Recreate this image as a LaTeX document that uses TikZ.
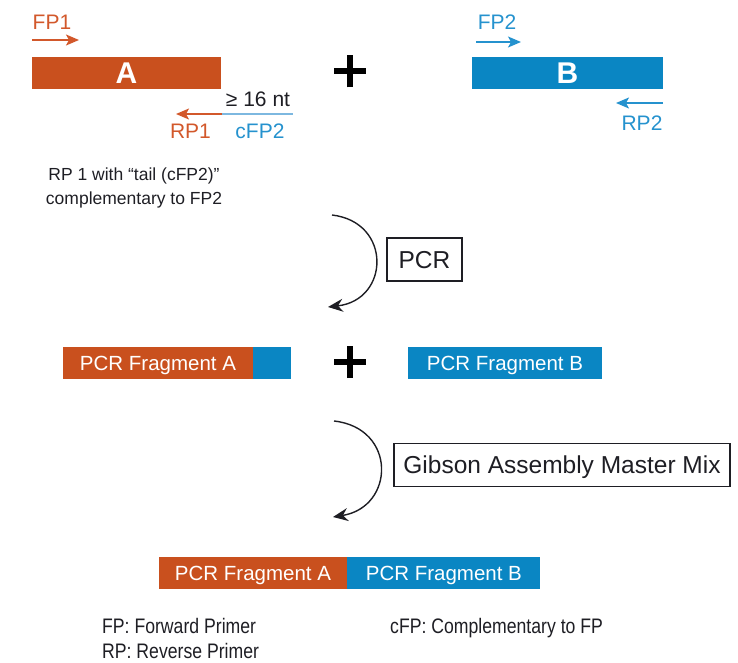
\documentclass[tikz,border=0pt]{standalone}
\usepackage{fontspec}
\setmainfont{Liberation Sans}
\newfontfamily\condfont{Liberation Sans}[FakeStretch=0.84]
\usetikzlibrary{arrows.meta}
\definecolor{orA}{HTML}{C9501E}
\definecolor{blB}{HTML}{0A86C3}
\definecolor{orT}{HTML}{D2582B}
\definecolor{blT}{HTML}{2592CE}
\definecolor{blL}{HTML}{7DB8E0}
\definecolor{txt}{HTML}{1E1E24}
\newcommand\tsz[1]{\fontsize{#1}{#1}\selectfont}
\begin{document}
\begin{tikzpicture}[x=1pt,y=1pt,
  bar/.style={rectangle, inner sep=0pt, minimum height=32pt, text=white, text depth=0pt, font=\tsz{20.5}},
  bigletter/.style={font=\bfseries\tsz{30}},
  lbl/.style={inner sep=0pt, text depth=0pt, font=\tsz{21}},
  primer/.style={line width=1.4pt, -{Stealth[length=13pt,width=11pt,inset=3pt]}},
  curvearrow/.style={line width=1.4pt, draw=txt, -{Stealth[length=15pt,width=13pt,inset=5pt]}},
  stepbox/.style={draw=txt, line width=1.2pt, inner sep=0pt, text depth=0pt, text=txt, font=\tsz{24.5}},
  plusbar/.style={line width=6pt, draw=black},
  legend/.style={anchor=base west, inner sep=0pt, text=txt, font=\condfont\tsz{21}}]
\useasboundingbox (0,0) rectangle (738,662);

% --- top row: fragment A
\node[bar, fill=orA, minimum width=189pt, bigletter] (barA) at (126.5,589) {A};
\node[lbl, text=orT] (fp1) at (52,639.5) {FP1};
\coordinate (fp1s) at (32,622);
\coordinate (fp1e) at (79,622);
\draw[primer, draw=orT] (fp1s) -- (fp1e);

\node[lbl, text=txt] (nt) at (258,563) {≥ 16 nt};
\coordinate (rp1s) at (222,548);
\coordinate (rp1e) at (176,548);
\coordinate (tail) at (293,548);
\draw[line width=1.1pt, draw=blL] (rp1s) -- (tail);
\draw[primer, draw=orT] (rp1s) -- (rp1e);
\node[lbl, text=orT] (rp1) at (190.5,531) {RP1};
\node[lbl, text=blT] (cfp2) at (260,531) {cFP2};

\node[inner sep=0pt, align=center, text=txt, text depth=0pt, font=\fontsize{17.5}{24}\selectfont] (note) at (134,476)
  {RP 1 with “tail (cFP2)”\\complementary to FP2};

% plus 1
\coordinate (p1) at (350,590.5);
\draw[plusbar] ([xshift=-16pt]p1) -- ([xshift=16pt]p1);
\draw[plusbar] ([yshift=-16pt]p1) -- ([yshift=16pt]p1);

% --- top row: fragment B
\node[bar, fill=blB, minimum width=191pt, bigletter] (barB) at (567.5,589) {B};
\node[lbl, text=blT] (fp2) at (497,639.5) {FP2};
\coordinate (fp2s) at (476,620);
\coordinate (fp2e) at (521,620);
\draw[primer, draw=blT] (fp2s) -- (fp2e);
\coordinate (rp2s) at (663,559);
\coordinate (rp2e) at (616,559);
\draw[primer, draw=blT] (rp2s) -- (rp2e);
\node[lbl, text=blT] (rp2) at (642,539) {RP2};

% --- PCR step
\node[stepbox, minimum width=75pt, minimum height=43pt] (pcr) at (424.5,402.5) {PCR};
\coordinate (c1s) at (332,447);
\coordinate (c1e) at (328,355);
\draw[curvearrow] (c1s) .. controls (392,440) and (390,362) .. (c1e);

% --- middle row
\node[bar, fill=orA, minimum width=190pt] (fragA) at (158,299) {PCR Fragment A};
\node[bar, fill=blB, minimum width=38pt, anchor=west] (fragAt) at (fragA.east) {};
\coordinate (p2) at (350,300);
\draw[plusbar] ([xshift=-16pt]p2) -- ([xshift=16pt]p2);
\draw[plusbar] ([yshift=-16pt]p2) -- ([yshift=16pt]p2);
\node[bar, fill=blB, minimum width=194pt] (fragB) at (505,299) {PCR Fragment B};

% --- Gibson step
\node[stepbox, minimum width=336pt, minimum height=43pt] (gib) at (562,197) {Gibson Assembly Master Mix};
\coordinate (c2s) at (334,241);
\coordinate (c2e) at (333,145);
\draw[curvearrow] (c2s) .. controls (397,234) and (395,155) .. (c2e);

% --- bottom row
\node[bar, fill=orA, minimum width=188pt] (botA) at (253,89) {PCR Fragment A};
\node[bar, fill=blB, minimum width=193pt, anchor=west] (botB) at (botA.east) {PCR Fragment B};

% --- legend
\node[legend] (lg1) at (102,29) {FP: Forward Primer};
\node[legend] (lg2) at (102,4) {RP: Reverse Primer};
\node[legend] (lg3) at (390,29) {cFP: Complementary to FP};
\end{tikzpicture}
\end{document}
